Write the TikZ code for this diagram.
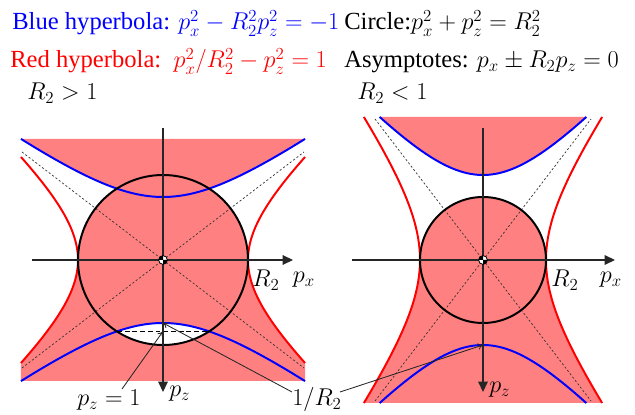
\documentclass[tikz,border=0pt]{standalone}
\usepackage{fontspec}
\setmainfont{Liberation Serif}
\usetikzlibrary{arrows.meta}
\definecolor{pinkfill}{RGB}{255,128,128}

\begin{document}
\begin{tikzpicture}[x=0.25cm,y=-0.25cm,font=\fontsize{17.5}{21}\selectfont]
\tikzset{txt/.style={anchor=base west,inner sep=0pt},
blueline/.style={blue,line width=1.4pt},
redline/.style={red,line width=1.4pt},
ring/.style={black,line width=1.4pt},
asym/.style={black!80,line width=0.5pt,dash pattern=on 1.5pt off 1.5pt},
chord/.style={black,line width=1.1pt,dash pattern=on 3.5pt off 2pt},
axis/.style={black!85,line width=0.8pt,-{Triangle[length=2.6mm,width=2.4mm]}},
pointer/.style={black!85,line width=0.6pt,-{To[length=1.3mm,width=1.6mm]}}}
\useasboundingbox (0,0) rectangle (63.5,41.5);

\node (h1) at (1.2,3.0) [txt,blue] {Blue hyperbola: $p_x^2-R_2^2p_z^2=-1$};
\node (h2) at (34.4,3.0) [txt] {Circle:$p_x^2+p_z^2=R_2^2$};
\node (h3) at (1.0,6.8) [txt,red] {Red hyperbola:\ \ $p_x^2/R_2^2-p_z^2=1$};
\node (h4) at (34.4,6.8) [txt] {Asymptotes: $p_x\pm R_2p_z=0$};
\node (c1) at (2.7,10.0) [txt] {$R_2>1$};
\node (c2) at (35.7,10.0) [txt] {$R_2<1$};

\begin{scope}[shift={(16.3,26)}]
\fill[pinkfill] (-14.2,-12.1) -- (14.2,-12.1) -- plot[domain=14.2:-14.2,samples=50] (\x,{-sqrt(39.69+0.53*\x*\x)}) -- cycle;
\fill[pinkfill] (0,0) circle[radius=8.5];
\fill[pinkfill] (-8.5,0) -- (8.5,0) -- plot[domain=0:10.3,samples=40] ({sqrt(72.25+1.22*\x*\x)},\x) -- (14.2,12.1) -- (-14.2,12.1) -- plot[domain=10.3:0,samples=40] ({-sqrt(72.25+1.22*\x*\x)},\x) -- cycle;
\begin{scope}
\clip (0,0) circle[radius=8.5];
\fill[white] plot[domain=-8.6:8.6,samples=40] (\x,{sqrt(39.69+0.53*\x*\x)}) -- (8.6,9) -- (-8.6,9) -- cycle;
\end{scope}
\draw[asym] (-14.1,-10.8) -- (14.1,10.8) (-14.1,10.8) -- (14.1,-10.8);
\draw[blueline] plot[domain=-14.2:14.2,samples=60] (\x,{-sqrt(39.69+0.53*\x*\x)});
\draw[blueline] plot[domain=-14.2:14.2,samples=60] (\x,{sqrt(39.69+0.53*\x*\x)});
\draw[redline] plot[domain=-10.3:10.3,samples=60] ({-sqrt(72.25+1.22*\x*\x)},\x);
\draw[redline] plot[domain=-10.3:10.3,samples=60] ({sqrt(72.25+1.22*\x*\x)},\x);
\draw[ring] (0,0) circle[radius=8.5];
\draw[chord] (-4.61,7.14) -- (4.61,7.14);
\coordinate (xa1) at (-13.1,0);
\coordinate (xb1) at (13.0,0);
\coordinate (za1) at (0,-13.2);
\coordinate (zb1) at (0,13.2);
\coordinate (v1) at (0,6.3);
\coordinate (k1) at (0,7.14);
\path (xa1) edge [axis] (xb1)
(za1) edge [axis] (zb1);
\fill[white] (0,0) circle[radius=0.44];
\fill (0,0) -- (0.44,0) arc[start angle=0,end angle=90,radius=0.44] -- cycle;
\fill (0,0) -- (-0.44,0) arc[start angle=180,end angle=270,radius=0.44] -- cycle;
\node (o1) at (0,0) [draw,circle,inner sep=0pt,minimum size=0.22cm,line width=0.6pt] {};
\node (r1) at (10.3,2.0) {$R_2$};
\node (px1) at (14.1,2.0) {$p_x$};
\node (pz1) at (0.6,13.4) [anchor=west,inner sep=0pt] {$p_z$};
\end{scope}

\begin{scope}[shift={(48.3,26)}]
\fill[pinkfill] (-10.33,-14.3) -- (10.33,-14.3) -- plot[domain=10.33:-10.33,samples=50] (\x,{-sqrt(72.25+1.24*\x*\x)}) -- cycle;
\fill[pinkfill] (0,0) circle[radius=6.3];
\fill[pinkfill] (-6.3,0) -- (6.3,0) -- plot[domain=0:14.3,samples=40] ({sqrt(39.69+0.5*\x*\x)},\x) -- plot[domain=14.3:0,samples=40] ({-sqrt(39.69+0.5*\x*\x)},\x) -- cycle;
\draw[asym] (-10.8,-14.1) -- (10.8,14.1) (-10.8,14.1) -- (10.8,-14.1);
\draw[blueline] plot[domain=-10.33:10.33,samples=60] (\x,{-sqrt(72.25+1.24*\x*\x)});
\draw[blueline] plot[domain=-10.33:10.33,samples=60] (\x,{sqrt(72.25+1.24*\x*\x)});
\draw[redline] plot[domain=-14.3:14.3,samples=60] ({-sqrt(39.69+0.5*\x*\x)},\x);
\draw[redline] plot[domain=-14.3:14.3,samples=60] ({sqrt(39.69+0.5*\x*\x)},\x);
\draw[ring] (0,0) circle[radius=6.3];
\coordinate (xa2) at (-13.1,0);
\coordinate (xb2) at (13.2,0);
\coordinate (za2) at (0,-13.2);
\coordinate (zb2) at (0,13.2);
\coordinate (v2) at (0,8.5);
\path (xa2) edge [axis] (xb2)
(za2) edge [axis] (zb2);
\fill[white] (0,0) circle[radius=0.44];
\fill (0,0) -- (0.44,0) arc[start angle=0,end angle=90,radius=0.44] -- cycle;
\fill (0,0) -- (-0.44,0) arc[start angle=180,end angle=270,radius=0.44] -- cycle;
\node (o2) at (0,0) [draw,circle,inner sep=0pt,minimum size=0.22cm,line width=0.6pt] {};
\node (r2) at (8.2,2.0) {$R_2$};
\node (px2) at (12.8,2.0) {$p_x$};
\node (pz2) at (0.6,13.0) [anchor=west,inner sep=0pt] {$p_z$};
\end{scope}

\node (n1) at (7.7,40.6) [txt] {$p_z=1$};
\node (n2) at (29.2,40.6) [txt] {$1/R_2$};
\coordinate (a1) at (12.2,38.9);
\coordinate (a2) at (29.2,39.2);
\coordinate (a3) at (34.0,39.2);
\path (a1) edge [pointer] (k1)
(a2) edge [pointer] (v1)
(a3) edge [pointer] (v2);
\end{tikzpicture}
\end{document}
